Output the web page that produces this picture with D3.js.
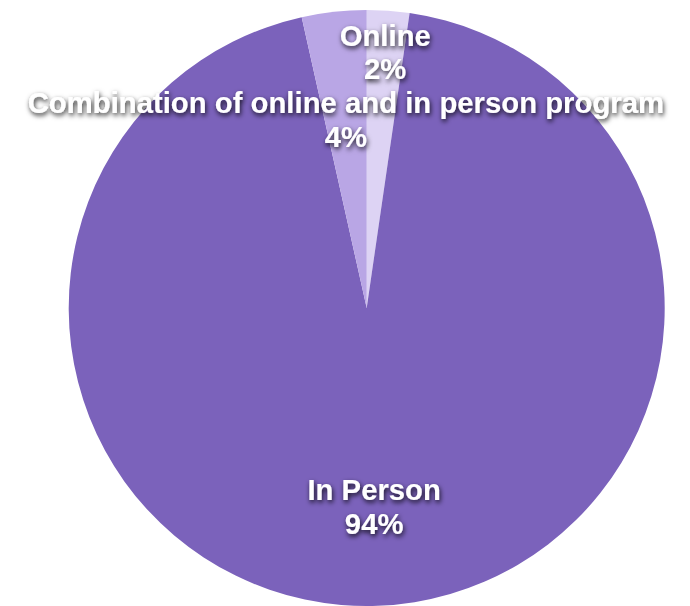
<!DOCTYPE html>
<html>
<head>
<meta charset="utf-8">
<script src="https://cdn.jsdelivr.net/npm/d3@7"></script>
<style>
  html, body { margin: 0; padding: 0; background: #ffffff; }
  svg { display: block; }
  text { font-family: "Liberation Sans", Arial, Helvetica, sans-serif; font-weight: bold; }
</style>
</head>
<body>
<svg id="chart" width="690" height="606"></svg>
<script>
// Data (clockwise from 12 o'clock)
const categories = ["Online", "In Person", "Combination of online and in person program"];
const values = [2.3, 94.2, 3.5];
const percentLabels = ["2%", "94%", "4%"];

// Styles / layout
const colors = ["#ddd3f4", "#7b62bb", "#b9a6e5"];
const labelRadiusFactor = [0.862, 0.665, 0.638];
const width = 690, height = 606;
const cx = 366.7, cy = 308, radius = 298;

const svg = d3.select("#chart");
const defs = svg.append("defs");
const f = defs.append("filter").attr("id", "shadow")
  .attr("x", "-20%").attr("y", "-40%").attr("width", "140%").attr("height", "180%");
f.append("feDropShadow").attr("dx", 1).attr("dy", 2.5).attr("stdDeviation", 2.5)
  .attr("flood-color", "#000").attr("flood-opacity", 0.85);

const data = categories.map((c, i) => ({ name: c, value: values[i], pct: percentLabels[i], i }));

const pie = d3.pie().sort(null).value(d => d.value);
const arcs = pie(data);
const arc = d3.arc().innerRadius(0).outerRadius(radius);

const g = svg.append("g").attr("transform", `translate(${cx},${cy})`);

g.selectAll("path.slice").data(arcs).enter().append("path")
  .attr("class", "slice")
  .attr("d", arc)
  .attr("fill", d => colors[d.data.i]);

const labels = g.selectAll("text.lbl").data(arcs).enter().append("text")
  .attr("class", "lbl")
  .attr("text-anchor", "middle")
  .attr("fill", "#ffffff")
  .attr("font-size", 29.3)
  .attr("filter", "url(#shadow)")
  .attr("transform", d => {
    const r = radius * labelRadiusFactor[d.data.i];
    const c = d3.arc().innerRadius(r).outerRadius(r).centroid(d);
    return `translate(${c[0]},${c[1]})`;
  });

labels.append("tspan").attr("x", 0).attr("y", -6).text(d => d.data.name);
labels.append("tspan").attr("x", 0).attr("y", 27.5).text(d => d.data.pct);
</script>
</body>
</html>
